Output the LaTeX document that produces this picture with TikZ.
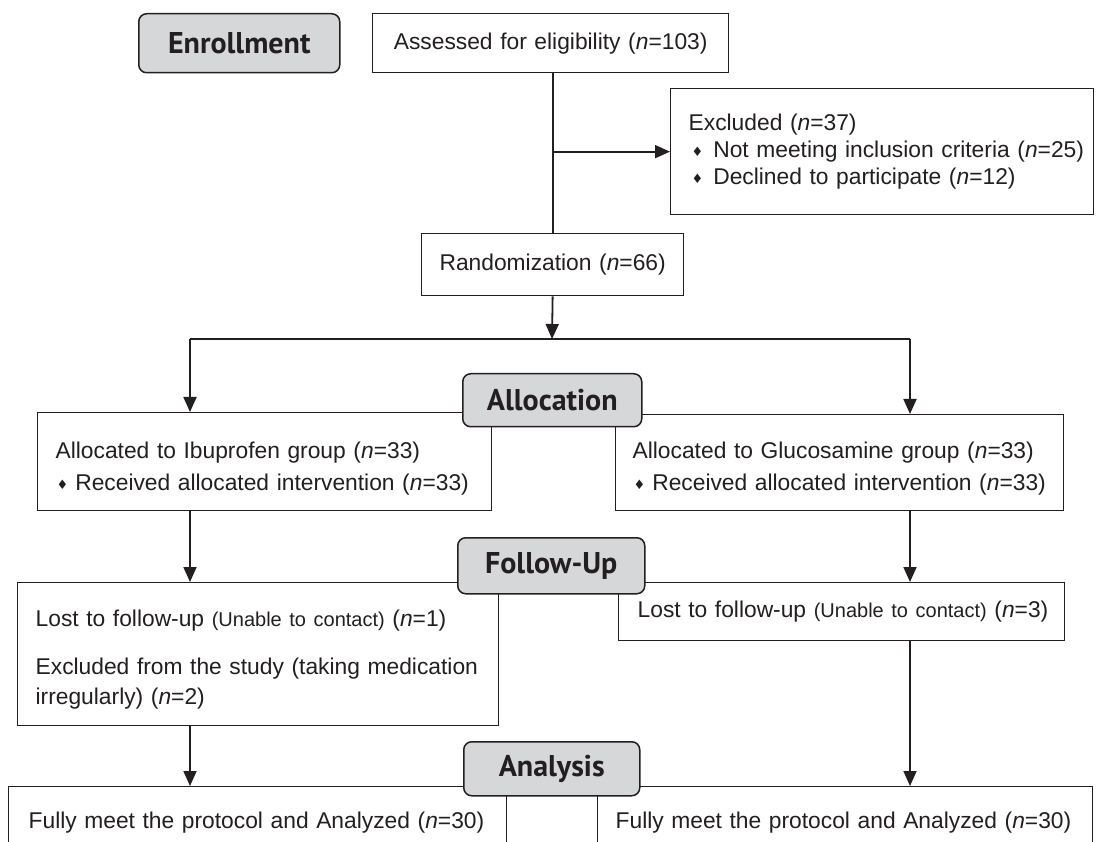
\documentclass[tikz,border=0pt]{standalone}
\usepackage{fontspec}
\setmainfont{Liberation Sans}
\newfontfamily\ptsans{PT Sans}
\newfontfamily\dejavu{DejaVu Sans}
\usetikzlibrary{arrows.meta}
\definecolor{linec}{HTML}{231F20}
\definecolor{phasegray}{HTML}{D6D7D9}
\newcommand{\bul}{{\dejavu\fontsize{13}{13}\selectfont\raisebox{1.2pt}{♦}}}
\newcommand{\nn}{\textit{n}}
\newcommand{\sm}[1]{{\fontsize{20}{22}\selectfont #1}}
\tikzset{
  box/.style={draw=linec, line width=1.3pt, rectangle, anchor=north west, align=left,
    inner ysep=0pt, font=\fontsize{22.8}{27}\selectfont, text=linec},
  phase/.style={draw=linec, line width=1.5pt, fill=phasegray, rounded corners=8pt,
    anchor=north west, inner sep=0pt, font=\ptsans\bfseries\fontsize{30}{32}\selectfont, text=linec},
  conn/.style={line width=1.8pt, draw=linec},
  arr/.style={conn, -{Triangle[length=15pt,width=13pt]}}
}
\begin{document}
\begin{tikzpicture}[x=1pt,y=-1pt]
\useasboundingbox (0,0) rectangle (1096,842);
\clip (0,0) rectangle (1096,842);
\fill[white] (0,0) rectangle (1096,842);

% boxes
\node[box, align=center, text width=356pt, inner xsep=0pt, minimum height=59pt] (assess) at (372,13)
  {Assessed for eligibility (\nn=103)};
\node[box, text width=387pt, inner xsep=18pt, minimum height=126pt] (excl) at (670,88)
  {\mbox{Excluded (\nn=37)}\\
   \mbox{\hspace*{3pt}\bul\hspace{10pt}Not meeting inclusion criteria (\nn=25)}\\
   \mbox{\hspace*{3pt}\bul\hspace{10pt}Declined to participate (\nn=12)}};
\node[box, align=center, text width=262pt, inner xsep=0pt, minimum height=62pt] (rand) at (421,233)
  {Randomization (\nn=66)};
\node[box, text width=418pt, inner xsep=18pt, minimum height=98pt] (ibu) at (37,412)
  {\mbox{\rule{0pt}{30pt}Allocated to Ibuprofen group (\nn=33)}\\[5pt]
   \mbox{\hspace*{1pt}\bul\hspace{7pt}Received allocated intervention (\nn=33)}};
\node[box, text width=414pt, inner xsep=17pt, minimum height=96pt] (glu) at (615,414)
  {\mbox{\rule{0pt}{28pt}Allocated to Glucosamine group (\nn=33)}\\[5pt]
   \mbox{\hspace*{1pt}\bul\hspace{7pt}Received allocated intervention (\nn=33)}};
\node[box, text width=445pt, inner xsep=18pt, minimum height=143pt] (lfu) at (17,582)
  {\mbox{\rule{0pt}{28pt}Lost to follow-up \sm{(Unable to contact)} (\nn=1)}\\[21pt]
   \mbox{Excluded from the study (taking medication}\\[3pt]
   \mbox{irregularly) (\nn=2)}};
\node[box, text width=408pt, inner xsep=19pt, minimum height=58pt] (rfu) at (618,582)
  {\mbox{Lost to follow-up \sm{(Unable to contact)} (\nn=3)}};
\node[box, text width=458pt, inner xsep=20pt, minimum height=72pt] (la) at (8,786)
  {\mbox{Fully meet the protocol and Analyzed (\nn=30)}};
\node[box, text width=459pt, inner xsep=18pt, minimum height=72pt] (ra) at (597,786)
  {\mbox{Fully meet the protocol and Analyzed (\nn=30)}};

% phase labels
\node[phase, minimum width=201pt, minimum height=59pt] (enroll) at (138,13) {Enrollment};
\node[phase, minimum width=179pt, minimum height=53pt] (alloc) at (462,373) {Allocation};
\node[phase, minimum width=187pt, minimum height=56pt] (follow) at (457,537) {Follow-Up};
\node[phase, minimum width=176pt, minimum height=54pt] (anal) at (463,741) {Analysis};

% connectors
\coordinate (hl) at (190,339);
\coordinate (hr) at (910,339);
\coordinate (split) at (552,339);
\draw[conn] (rand.north |- assess.south) -- (rand.north);
\draw[arr] (rand.north |- excl.west) -- (excl.west);
\draw[arr] (rand.south) -- (split);
\draw[conn] (hl) -- (hr);
\draw[arr] (hl) -- (hl |- ibu.north);
\draw[arr] (hr) -- (hr |- glu.north);
\draw[arr] (hl |- ibu.south) -- (hl |- lfu.north);
\draw[arr] (hr |- glu.south) -- (hr |- rfu.north);
\draw[arr] (hl |- lfu.south) -- (hl |- la.north);
\draw[arr] (hr |- rfu.south) -- (hr |- ra.north);
\end{tikzpicture}
\end{document}
